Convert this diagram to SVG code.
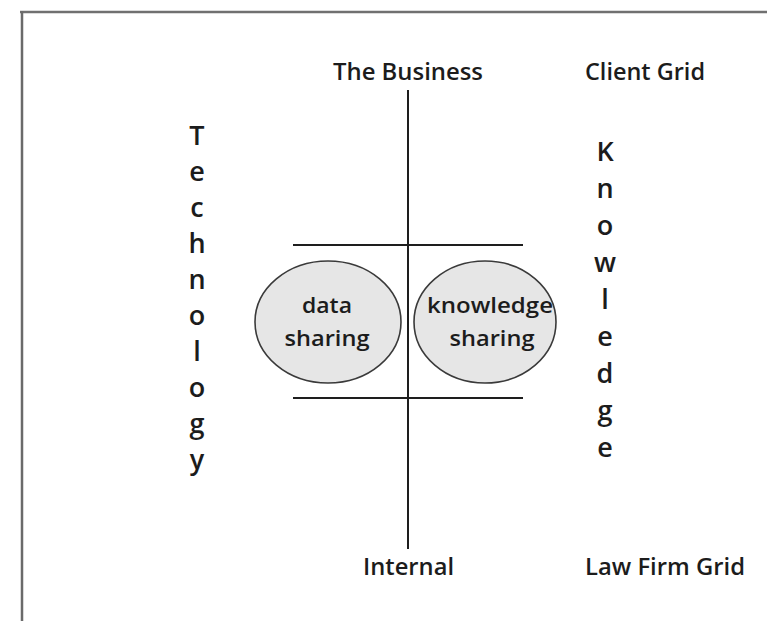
<svg xmlns="http://www.w3.org/2000/svg" width="767" height="621" viewBox="0 0 767 621">
<style>
text{font-family:"Open Sans","Noto Sans","Liberation Sans",sans-serif;fill:#1c1c1c;font-weight:600}
.lbl{font-size:24px}
.v{font-size:27px;text-anchor:middle}
.e{font-size:21px;text-anchor:middle}
.ln{stroke:#1e1e1e;stroke-width:2;fill:none}
.bub{fill:#e6e6e6;stroke:#3a3a3a;stroke-width:1.6}
</style>
<rect width="767" height="621" fill="#ffffff"/>
<g id="frame">
<line x1="20" y1="12" x2="767" y2="12" stroke="#707070" stroke-width="2.5"/>
<line x1="22" y1="11" x2="22" y2="621" stroke="#6a6a6a" stroke-width="2.5"/>
</g>
<g id="connectors">
<line class="ln" x1="408" y1="90" x2="408" y2="549"/>
<line class="ln" x1="293" y1="245" x2="523" y2="245"/>
<line class="ln" x1="293" y1="398" x2="523" y2="398"/>
</g>
<g id="the-business"><text class="lbl" x="333" y="80" textLength="150" lengthAdjust="spacingAndGlyphs">The Business</text></g>
<g id="client-grid"><text class="lbl" x="585" y="80" textLength="120" lengthAdjust="spacingAndGlyphs">Client Grid</text></g>
<g id="internal"><text class="lbl" x="363" y="575" textLength="91" lengthAdjust="spacingAndGlyphs">Internal</text></g>
<g id="law-firm-grid"><text class="lbl" x="585" y="575" textLength="160" lengthAdjust="spacingAndGlyphs">Law Firm Grid</text></g>
<g id="technology">
<text class="v" x="197" y="145">T</text>
<text class="v" x="197" y="181">e</text>
<text class="v" x="197" y="217">c</text>
<text class="v" x="197" y="253">h</text>
<text class="v" x="197" y="289">n</text>
<text class="v" x="197" y="325">o</text>
<text class="v" x="197" y="361">l</text>
<text class="v" x="197" y="397">o</text>
<text class="v" x="197" y="433">g</text>
<text class="v" x="197" y="469">y</text>
</g>
<g id="knowledge">
<text class="v" x="605" y="161">K</text>
<text class="v" x="605" y="198">n</text>
<text class="v" x="605" y="235">o</text>
<text class="v" x="605" y="272">w</text>
<text class="v" x="605" y="309">l</text>
<text class="v" x="605" y="346">e</text>
<text class="v" x="605" y="383">d</text>
<text class="v" x="605" y="420">g</text>
<text class="v" x="605" y="457">e</text>
</g>
<g id="data-sharing">
<ellipse class="bub" cx="328" cy="322" rx="73" ry="61"/>
<text class="e" x="327" y="313" textLength="50" lengthAdjust="spacingAndGlyphs">data</text>
<text class="e" x="327" y="346" textLength="85" lengthAdjust="spacingAndGlyphs">sharing</text>
</g>
<g id="knowledge-sharing">
<ellipse class="bub" cx="485" cy="322" rx="71" ry="61"/>
<text class="e" x="490" y="313" textLength="126" lengthAdjust="spacingAndGlyphs">knowledge</text>
<text class="e" x="492" y="346" textLength="85" lengthAdjust="spacingAndGlyphs">sharing</text>
</g>
</svg>
